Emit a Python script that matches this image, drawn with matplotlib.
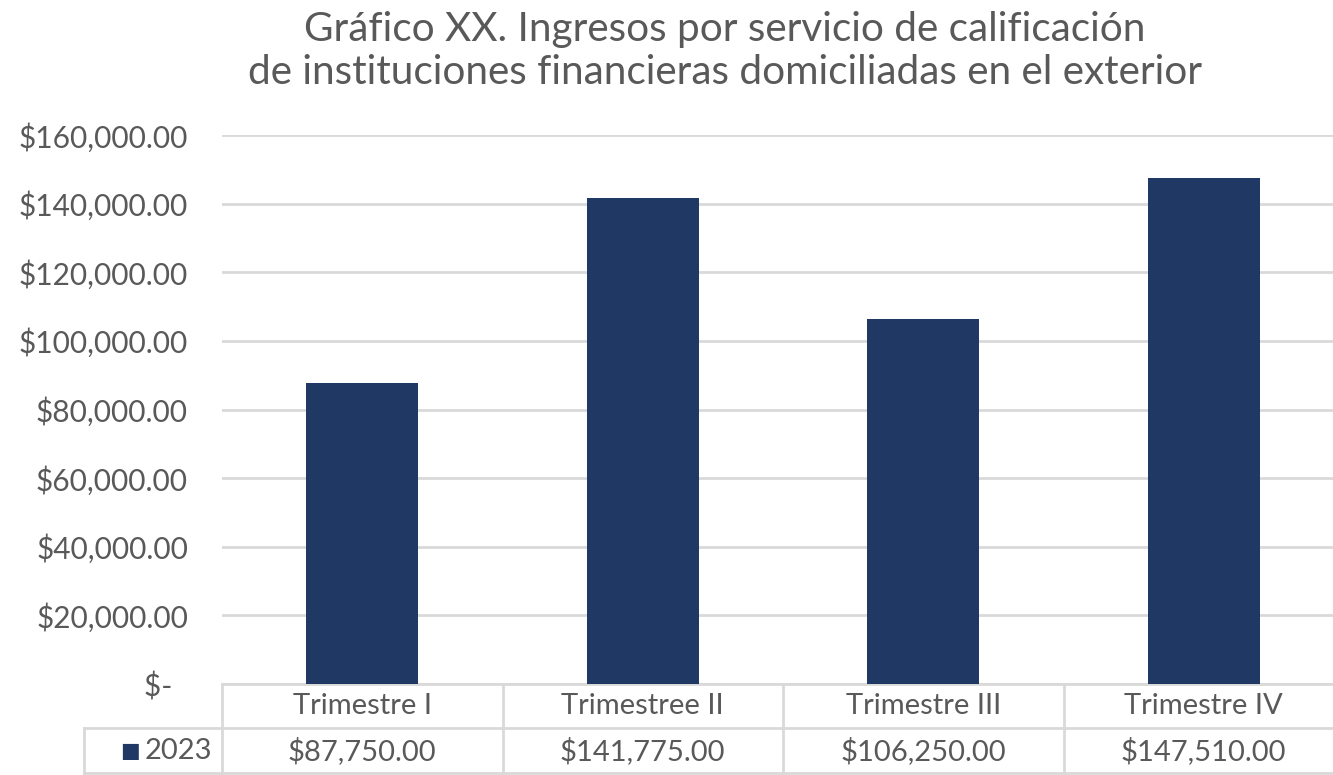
#!/usr/bin/env python3
"""ingresos_trimestre.py"""

import matplotlib

matplotlib.use("Agg")
import matplotlib.pyplot as plt
import matplotlib.transforms as mtransforms
import numpy as np

plt.rcParams["font.family"] = ["Lato", "DejaVu Sans"]

categories = ["Trimestre I", "Trimestree II", "Trimestre III", "Trimestre IV"]
values_2023 = [87750.00, 141775.00, 106250.00, 147510.00]
series_name = "2023"
yticks = [0, 20000, 40000, 60000, 80000, 100000, 120000, 140000, 160000]

NAVY = "#1F3864"
TEXT = "#595959"
GRID = "#D9D9D9"


def money(v):
    if v == 0:
        return "$-  "
    return f"${v:,.2f}"


def plot(fig, ax):
    x = np.arange(len(categories))
    ax.bar(x, values_2023, width=0.4, color=NAVY, zorder=3)

    ax.set_xlim(-0.5, len(categories) - 0.5)
    ax.set_ylim(0, 160000)
    ax.set_yticks(yticks)
    ax.set_yticklabels([money(v) for v in yticks])
    ax.tick_params(axis="y", length=0, pad=24.5, labelsize=21.5,
                   labelcolor=TEXT)
    ax.set_xticks([])
    ax.grid(axis="y", color=GRID, linewidth=2, zorder=0)
    for s in ax.spines.values():
        s.set_visible(False)

    # data table below the plot
    tr = mtransforms.blended_transform_factory(ax.transData, ax.transAxes)
    rh = 0.081
    left = -0.5
    right = len(categories) - 0.5
    leg_left = -0.992
    kw = dict(color=GRID, linewidth=2, transform=tr, clip_on=False, zorder=1)
    ax.plot([left, right], [0, 0], **kw)
    ax.plot([leg_left, right], [-rh, -rh], **kw)
    ax.plot([leg_left, right], [-2 * rh, -2 * rh], **kw)
    for xb in np.arange(len(categories) + 1) - 0.5:
        ax.plot([xb, xb], [0, -2 * rh], **kw)
    ax.plot([leg_left, leg_left], [-rh, -2 * rh], **kw)

    for i, (cat, val) in enumerate(zip(categories, values_2023)):
        ax.text(i, -rh / 2, cat, transform=tr, ha="center", va="center",
                fontsize=21, color=TEXT, clip_on=False)
        ax.text(i, -1.5 * rh, money(val), transform=tr, ha="center",
                va="center", fontsize=21, color=TEXT, clip_on=False)

    ax.text(-0.828, -1.5 * rh, "■", transform=tr, ha="center", va="center",
            fontsize=15, color=NAVY, clip_on=False, family="DejaVu Sans")
    ax.text(-0.777, -1.5 * rh, series_name, transform=tr, ha="left",
            va="center", fontsize=21, color=TEXT, clip_on=False)

    fig.text(725 / 1333, 1 - 51 / 775,
             "Gráfico XX. Ingresos por servicio de calificación\n"
             "de instituciones financieras domiciliadas en el exterior",
             ha="center", va="center", fontsize=29.2, color=TEXT,
             linespacing=1.2)


def main():
    fig = plt.figure(figsize=(13.33, 7.75), dpi=100)
    ax = fig.add_axes([222 / 1333, 1 - 684 / 775, 1122 / 1333, 549 / 775])
    plot(fig, ax)
    fig.savefig("out.png", dpi=100, facecolor="white")


if __name__ == "__main__":
    main()
